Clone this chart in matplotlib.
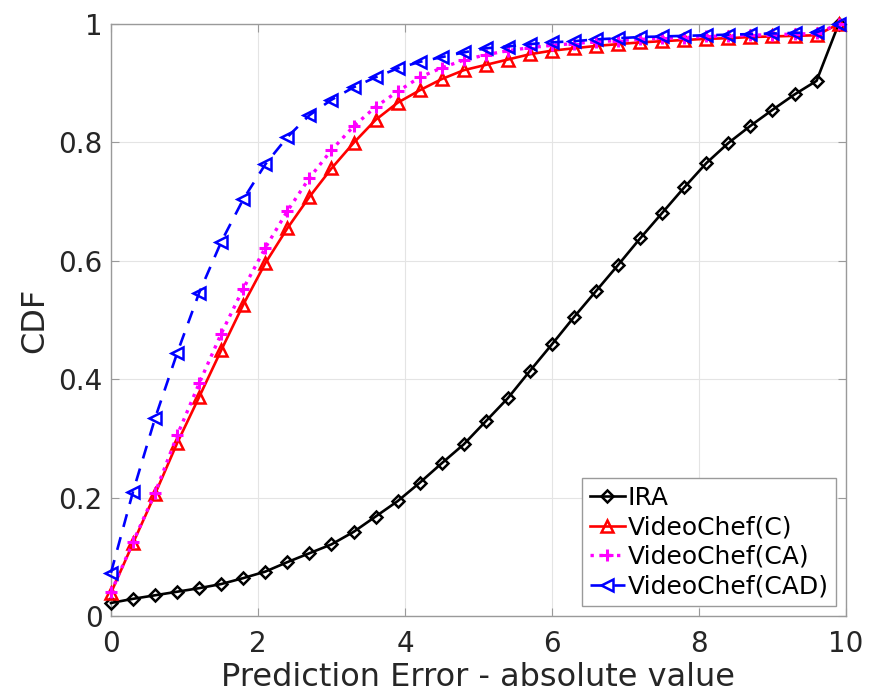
# -*- coding: UTF-8 -*-

"""CDF of absolute prediction error for IRA and the VideoChef variants
"""

#+++++++++++++++++++++++++++++++++++++++++++++++++++++++++++++++++++++++++++++#

import numpy as np
import matplotlib
matplotlib.use('Agg')
import matplotlib.pyplot as plt

#+++++++++++++++++++++++++++++++++++++++++++++++++++++++++++++++++++++++++++++#

ERR = [ 0.0, 0.3, 0.6, 0.9, 1.2, 1.5, 1.8, 2.1, 2.4, 2.7, 3.0, 3.3,
  3.6, 3.9, 4.2, 4.5, 4.8, 5.1, 5.4, 5.7, 6.0, 6.3, 6.6, 6.9, 7.2, 7.5,
  7.8, 8.1, 8.4, 8.7, 9.0, 9.3, 9.6, 9.9 ]

CDF_IRA = [ 0.022, 0.029, 0.035, 0.041, 0.047, 0.054, 0.064, 0.075, 0.091,
  0.106, 0.121, 0.142, 0.168, 0.194, 0.225, 0.258, 0.290, 0.329, 0.368,
  0.414, 0.459, 0.505, 0.549, 0.593, 0.638, 0.681, 0.724, 0.765, 0.799,
  0.828, 0.855, 0.881, 0.904, 1.0 ]

CDF_C = [ 0.039, 0.123, 0.206, 0.292, 0.370, 0.449, 0.526, 0.596, 0.655,
  0.708, 0.756, 0.799, 0.838, 0.867, 0.888, 0.907, 0.922, 0.931, 0.940,
  0.949, 0.955, 0.959, 0.963, 0.966, 0.969, 0.971, 0.973, 0.975, 0.976,
  0.978, 0.979, 0.980, 0.981, 1.0 ]

CDF_CA = [ 0.040, 0.125, 0.208, 0.305, 0.393, 0.477, 0.553, 0.622, 0.684,
  0.740, 0.787, 0.827, 0.860, 0.886, 0.910, 0.926, 0.939, 0.948, 0.955,
  0.960, 0.964, 0.967, 0.970, 0.972, 0.974, 0.976, 0.977, 0.979, 0.980,
  0.981, 0.982, 0.983, 0.984, 1.0 ]

CDF_CAD = [ 0.073, 0.210, 0.334, 0.444, 0.546, 0.632, 0.704, 0.763, 0.809,
  0.846, 0.872, 0.893, 0.910, 0.925, 0.936, 0.944, 0.952, 0.959, 0.962,
  0.966, 0.969, 0.971, 0.974, 0.976, 0.978, 0.979, 0.980, 0.981, 0.982,
  0.983, 0.984, 0.985, 0.986, 1.0 ]

LABELS = [ 'IRA', 'VideoChef(C)', 'VideoChef(CA)', 'VideoChef(CAD)' ]

TEXT_C = '#262626'
SPINE_C = '#9a9a9a'

#+++++++++++++++++++++++++++++++++++++++++++++++++++++++++++++++++++++++++++++#

if __name__ == '__main__':

  fig = plt.figure(figsize = (8.69, 6.94), dpi = 100)
  ax = fig.add_axes([0.1277, 0.1124, 0.8458, 0.853])

  lw = 1.9

  ax.plot(ERR, CDF_IRA, '-', c = 'k', lw = lw, marker = 'D', ms = 6.5,
    mfc = 'none', mew = 1.8, label = LABELS[0], zorder = 3, clip_on = False)
  ax.plot(ERR, CDF_C, '-', c = 'r', lw = lw, marker = '^', ms = 8,
    mfc = 'none', mew = 1.8, label = LABELS[1], zorder = 3, clip_on = False)
  ax.plot(ERR, CDF_CA, ':', c = '#ff00ff', lw = 2.4, marker = '+', ms = 9,
    mew = 2.2, label = LABELS[2], zorder = 4, clip_on = False)
  ax.plot(ERR, CDF_CAD, '--', c = 'b', lw = lw, marker = '<', ms = 8,
    mfc = 'none', mew = 1.8, label = LABELS[3], zorder = 5,
    dashes = (5, 4), clip_on = False)

  ax.set_xlim(0, 10)
  ax.set_ylim(0, 1)
  ax.set_xticks([0, 2, 4, 6, 8, 10])
  ax.set_yticks([0, 0.2, 0.4, 0.6, 0.8, 1])
  ax.set_yticklabels(['0', '0.2', '0.4', '0.6', '0.8', '1'])

  ax.grid(True, color = '#e4e4e4', lw = 0.8)
  ax.set_axisbelow(True)

  for s in ax.spines.values():
    s.set_color(SPINE_C)
    s.set_linewidth(1.0)

  ax.tick_params(direction = 'in', length = 6, width = 0.8, color = SPINE_C,
    labelsize = 20, labelcolor = TEXT_C, top = True, right = True)
  ax.tick_params(axis = 'x', pad = 10)
  ax.tick_params(axis = 'y', pad = 6)

  ax.set_xlabel('Prediction Error - absolute value', fontsize = 23,
    color = TEXT_C, labelpad = 3)
  ax.set_ylabel('CDF', fontsize = 23, color = TEXT_C, labelpad = 6)

  legend = ax.legend(loc = 'lower right', fontsize = 18, handlelength = 1.4,
    handletextpad = 0.1, borderpad = 0.3, labelspacing = 0.22,
    borderaxespad = 0.4, fancybox = False, framealpha = 1)
  legend.get_frame().set_edgecolor(SPINE_C)
  legend.get_frame().set_linewidth(1.0)
  for t in legend.get_texts():
    t.set_color('k')

  plt.savefig('out.png', dpi = 100)
  plt.close()
#+++++++++++++++++++++++++++++++++++++++++++++++++++++++++++++++++++++++++++++#
